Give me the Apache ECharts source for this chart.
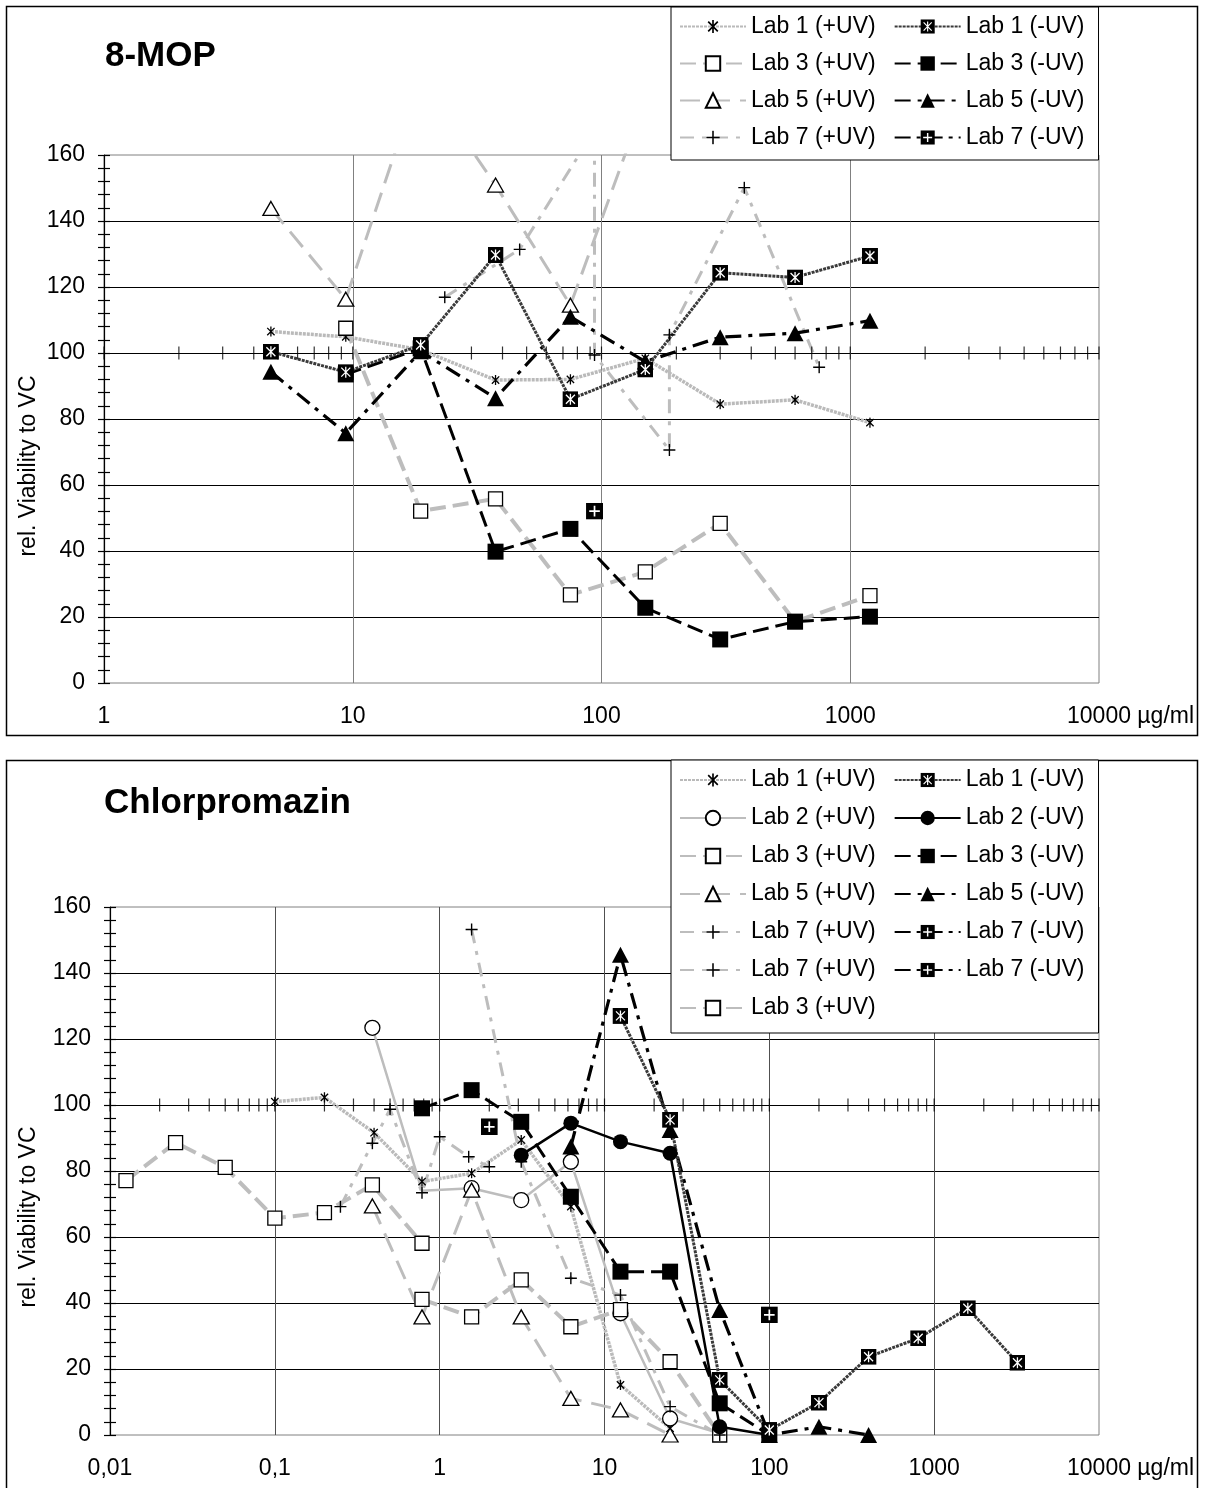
<!DOCTYPE html>
<html>
<head>
<meta charset="utf-8">
<script src="https://cdn.jsdelivr.net/npm/echarts@6/dist/echarts.min.js"></script>
<style>
  html, body { margin: 0; padding: 0; background: #fff; }
  #c { width: 1205px; height: 1488px; }
</style>
</head>
<body>
<div id="c"></div>
<script>
const FONT = '"Liberation Sans", Arial, sans-serif';

// ---------- 8-MOP (µg/ml, rel. viability %) ----------
const mopDose          = [4.6875, 9.375, 18.75, 37.5, 75, 150, 300, 600, 1200];
const mopLab1Plus      = [106.5, 104.9, 101, 91.8, 92, 98.4, 84.5, 85.8, 78.9];
const mopLab1Minus     = [100.4, 94.2, 102.4, 129.7, 86, 95, 124.3, 122.9, 129.4];
const mopLab3Dose      = [9.375, 18.75, 37.5, 75, 150, 300, 600, 1200];
const mopLab3Plus      = [107.5, 52.1, 55.8, 26.7, 33.7, 48.4, 18.6, 26.5];
const mopLab3Minus     = [93.5, 101.4, 39.8, 46.7, 22.8, 13.2, 18.6, 20.1];
const mopLab5PlusDose  = [4.6875, 9.375, 18.75, 37.5, 75, 150];
const mopLab5Plus      = [143.8, 116.3, 184, 150.9, 114.5, 177];
const mopLab5Minus     = [94.3, 75.7, 100.5, 86.3, 111, 97.4, 104.8, 106, 109.8];
const mopLab7PlusDose  = [23.4375, 46.875, 93.75, 93.75, 187.5, 187.5, 375, 750];
const mopLab7Plus      = [116.9, 131.4, 167.5, 99.4, 70.6, 105.5, 150.1, 95.7];
const mopLab7MinusDose = [93.75];
const mopLab7Minus     = [52.1];

// ---------- Chlorpromazin ----------
const cpzLab1PlusDose   = [0.1, 0.2, 0.4, 0.78125, 1.5625, 3.125, 6.25, 12.5, 25];
const cpzLab1Plus       = [101, 102.3, 91.6, 76.8, 79.3, 89.4, 69.2, 15.2, 2];
const cpzLab1MinusDose  = [12.5, 25, 50, 100, 200, 400, 800, 1600, 3200];
const cpzLab1Minus      = [127, 95.5, 16.7, 1.5, 9.8, 23.7, 29.3, 38.4, 21.9];
const cpzLab2PlusDose   = [0.390625, 0.78125, 1.5625, 3.125, 6.25, 12.5, 25, 50];
const cpzLab2Plus       = [123.4, 74, 74.8, 71.2, 82.8, 36.9, 5, 0.5];
const cpzLab2PlusMarker = [true, false, true, true, true, true, true, false];
const cpzLab2MinusDose  = [3.125, 6.25, 12.5, 25, 50, 100];
const cpzLab2Minus      = [84.8, 94.5, 88.9, 85.4, 2.5, 0];
const cpzLab3PlusDose   = [0.78125, 1.5625, 3.125, 6.25, 12.5, 25, 50];
const cpzLab3Plus       = [41.1, 35.8, 47, 32.8, 38, 22.2, 0];
const cpzLab3MinusDose  = [0.78125, 1.5625, 3.125, 6.25, 12.5, 25, 50, 100];
const cpzLab3Minus      = [99, 104.5, 94.9, 72.2, 49.5, 49.5, 9.6, 0];
const cpzLab5PlusDose   = [0.390625, 0.78125, 1.5625, 3.125, 6.25, 12.5, 25];
const cpzLab5Plus       = [69.4, 35.8, 74.2, 35.8, 11.1, 7.6, 0];
const cpzLab5MinusDose  = [6.25, 12.5, 25, 50, 100, 200, 400];
const cpzLab5Minus      = [87.4, 145.5, 92.4, 37.9, 0, 2.5, 0];
const cpzLab7aPlusDose  = [0.25, 0.390625, 0.5, 0.78125, 1, 1.5, 2];
const cpzLab7aPlus      = [69.2, 88.4, 98.7, 73.4, 90.4, 84.3, 81.3];
const cpzLab7bPlusDose  = [1.5625, 3.125, 6.25, 12.5, 25, 50];
const cpzLab7bPlus      = [153.2, 82.8, 47.5, 42.4, 8.6, 0];
const cpzLab7aMinusDose = [2];
const cpzLab7aMinus     = [93.4];
const cpzLab7bMinusDose = [100];
const cpzLab7bMinus     = [36.4];
const cpzLab3bPlusDose  = [0.0125, 0.025, 0.05, 0.1, 0.2, 0.390625, 0.78125];
const cpzLab3bPlus      = [77.1, 88.6, 81.1, 65.7, 67.4, 75.8, 58.1];

// axis tick labels
const yTicks = [0, 20, 40, 60, 80, 100, 120, 140, 160];
const UNIT = '\u00a0µg/ml';

// ---------- marker glyphs ----------
function svgSym(inner, w, h) {
  return 'image://data:image/svg+xml;charset=utf-8,' + encodeURIComponent(
    '<svg xmlns="http://www.w3.org/2000/svg" width="' + w + '" height="' + h +
    '" viewBox="0 0 ' + w + ' ' + h + '">' + inner + '</svg>');
}
const STAR    = svgSym('<path d="M2 2L10 10M10 2L2 10M6 0.5V11.5" stroke="#000" stroke-width="1.4" fill="none"/>', 12, 12);
const SQ_STAR = svgSym('<rect width="16" height="16" fill="#000"/><path d="M3.5 3.5L12.5 12.5M12.5 3.5L3.5 12.5M8 2.5V13.5" stroke="#fff" stroke-width="1.3" fill="none"/>', 16, 16);
const PLUS    = svgSym('<path d="M6.5 0.5V12.5M0.5 6.5H12.5" stroke="#000" stroke-width="1.4" fill="none"/>', 13, 13);
const SQ_PLUS = svgSym('<rect width="16" height="16" fill="#000"/><path d="M8 3V13M3 8H13" stroke="#fff" stroke-width="1.6" fill="none"/>', 16, 16);

const GRAY = '#bdbdbd';
const STY = {
  l1p: { symbol: STAR, symbolSize: 11, lineStyle: { color: '#bababa', width: 3.5, type: [3, 1] } },
  l1m: { symbol: SQ_STAR, symbolSize: 16, lineStyle: { color: '#3a3a3a', width: 3, type: [3, 1] } },
  l2p: { symbol: 'circle', symbolSize: 15, itemStyle: { color: '#fff', borderColor: '#000', borderWidth: 1.3 }, lineStyle: { color: GRAY, width: 2.5 } },
  l2m: { symbol: 'circle', symbolSize: 15, itemStyle: { color: '#000' }, lineStyle: { color: '#000', width: 2.5 } },
  l3p: { symbol: 'rect', symbolSize: 14, itemStyle: { color: '#fff', borderColor: '#000', borderWidth: 1.3 }, lineStyle: { color: GRAY, width: 4, type: [16, 7] } },
  l3m: { symbol: 'rect', symbolSize: 16, itemStyle: { color: '#000' }, lineStyle: { color: '#000', width: 3, type: [16, 7] } },
  l5p: { symbol: 'triangle', symbolSize: [16, 14], itemStyle: { color: '#fff', borderColor: '#000', borderWidth: 1.3 }, lineStyle: { color: GRAY, width: 3, type: [20, 10] } },
  l5m: { symbol: 'triangle', symbolSize: [17, 16], itemStyle: { color: '#000' }, lineStyle: { color: '#000', width: 3.2, type: [16, 7, 4, 7] } },
  l7p: { symbol: PLUS, symbolSize: 13, lineStyle: { color: GRAY, width: 3, type: [14, 8, 4, 8] } },
  l7m: { symbol: SQ_PLUS, symbolSize: 17, lineStyle: { color: '#000', width: 3, type: [16, 6, 4, 6] } }
};

function mk(name, xi, yi, dose, vals, st, markerOn) {
  const data = dose.map(function (d, i) {
    const item = { value: [d, vals[i]] };
    if (markerOn && !markerOn[i]) item.symbol = 'none';
    return item;
  });
  return Object.assign({
    type: 'line', name: name, xAxisIndex: xi, yAxisIndex: yi, data: data,
    clip: true, showAllSymbol: true, emphasis: { disabled: true }, animation: false
  }, st);
}

// tick positions of the log axis crossing at 100 %
function logTicks(e0, e1) {
  const t = [];
  for (let e = e0; e < e1; e++) {
    for (let f = 1; f <= 9; f++) t.push(+(f * Math.pow(10, e)).toPrecision(6));
  }
  t.push(Math.pow(10, e1));
  return t;
}
function crossTicks(xi, yi, ticks) {
  return {
    type: 'scatter', xAxisIndex: xi, yAxisIndex: yi, silent: true, clip: false, z: 3,
    symbol: 'rect', symbolSize: [1.2, 13], itemStyle: { color: '#000' },
    data: ticks.map(function (v) { return [v, 100]; }), animation: false
  };
}

function fmtNum(v, comma) {
  let s = String(+(+v).toPrecision(6));
  if (comma) s = s.replace('.', ',');
  return s;
}
function xAxisCfg(gi, min, max, comma, gridColor) {
  return {
    gridIndex: gi, type: 'log', logBase: 10, min: min, max: max,
    axisLine: { show: false }, axisTick: { show: false },
    splitLine: { show: true, showMinLine: false, showMaxLine: false, lineStyle: { color: gridColor, width: 1 } },
    axisLabel: {
      fontSize: 23, fontFamily: FONT, color: '#000', margin: 22,
      formatter: function (v) {
        const s = fmtNum(v, comma);
        return v >= 9999 ? '{h|' + UNIT + '}' + s + '{u|' + UNIT + '}' : s;
      },
      rich: {
        h: { color: 'rgba(0,0,0,0)', fontSize: 23, fontFamily: FONT },
        u: { color: '#000', fontSize: 23, fontFamily: FONT }
      }
    }
  };
}
function yAxisCfg(gi, inside) {
  return {
    gridIndex: gi, type: 'value', position: 'left', min: yTicks[0], max: yTicks[yTicks.length - 1], interval: 20,
    axisLine: { show: !inside, lineStyle: { color: '#000', width: 1.2 } },
    axisTick: { show: true, inside: inside, length: 6, lineStyle: { color: '#000', width: 1.2 } },
    minorTick: { show: true, splitNumber: 5, length: 6, lineStyle: { color: '#000', width: 1.2 } },
    splitLine: { show: !inside, showMinLine: false, showMaxLine: false, lineStyle: { color: '#000', width: 1 } },
    axisLabel: { show: !inside, fontSize: 23, fontFamily: FONT, color: '#000', margin: 19 }
  };
}
function legendCfg(top, names, lh, padBottom) {
  return {
    left: 671, top: top, width: 420, orient: 'horizontal',
    padding: [5, 4, padBottom, 8], itemGap: 8, itemWidth: 66, itemHeight: 18,
    backgroundColor: '#fff', borderColor: '#000', borderWidth: 1,
    selectedMode: false,
    textStyle: { fontSize: 23, fontFamily: FONT, color: '#000', lineHeight: lh, padding: [0, 10, 0, 0] },
    data: names
  };
}

const Z = '\u200b';
const series = [
  // 8-MOP
  mk('Lab 1 (+UV)', 0, 0, mopDose, mopLab1Plus, STY.l1p),
  mk('Lab 3 (+UV)', 0, 0, mopLab3Dose, mopLab3Plus, STY.l3p),
  mk('Lab 5 (+UV)', 0, 0, mopLab5PlusDose, mopLab5Plus, STY.l5p),
  mk('Lab 7 (+UV)', 0, 0, mopLab7PlusDose, mopLab7Plus, STY.l7p),
  mk('Lab 3 (-UV)', 0, 0, mopLab3Dose, mopLab3Minus, STY.l3m),
  mk('Lab 5 (-UV)', 0, 0, mopDose, mopLab5Minus, STY.l5m),
  mk('Lab 1 (-UV)', 0, 0, mopDose, mopLab1Minus, STY.l1m),
  mk('Lab 7 (-UV)', 0, 0, mopLab7MinusDose, mopLab7Minus, STY.l7m),
  crossTicks(0, 0, logTicks(0, 4)),
  // Chlorpromazin
  mk('Lab 3 (+UV)' + Z, 1, 2, cpzLab3bPlusDose, cpzLab3bPlus, STY.l3p),
  mk('Lab 1 (+UV)', 1, 2, cpzLab1PlusDose, cpzLab1Plus, STY.l1p),
  mk('Lab 2 (+UV)', 1, 2, cpzLab2PlusDose, cpzLab2Plus, STY.l2p, cpzLab2PlusMarker),
  mk('Lab 3 (+UV)', 1, 2, cpzLab3PlusDose, cpzLab3Plus, STY.l3p),
  mk('Lab 5 (+UV)', 1, 2, cpzLab5PlusDose, cpzLab5Plus, STY.l5p),
  mk('Lab 7 (+UV)', 1, 2, cpzLab7aPlusDose, cpzLab7aPlus, STY.l7p),
  mk('Lab 7 (+UV)' + Z, 1, 2, cpzLab7bPlusDose, cpzLab7bPlus, STY.l7p),
  mk('Lab 2 (-UV)', 1, 2, cpzLab2MinusDose, cpzLab2Minus, STY.l2m),
  mk('Lab 3 (-UV)', 1, 2, cpzLab3MinusDose, cpzLab3Minus, STY.l3m),
  mk('Lab 5 (-UV)', 1, 2, cpzLab5MinusDose, cpzLab5Minus, STY.l5m),
  mk('Lab 1 (-UV)', 1, 2, cpzLab1MinusDose, cpzLab1Minus, STY.l1m),
  mk('Lab 7 (-UV)', 1, 2, cpzLab7aMinusDose, cpzLab7aMinus, STY.l7m),
  mk('Lab 7 (-UV)' + Z, 1, 2, cpzLab7bMinusDose, cpzLab7bMinus, STY.l7m),
  crossTicks(1, 2, logTicks(-2, 4))
];

const option = {
  animation: false,
  backgroundColor: '#fff',
  grid: [
    { left: 104, top: 155, width: 995, height: 528, show: true, borderColor: '#808080', borderWidth: 1, backgroundColor: 'rgba(0,0,0,0)' },
    { left: 110, top: 907, width: 989, height: 528, show: true, borderColor: '#808080', borderWidth: 1, backgroundColor: 'rgba(0,0,0,0)' }
  ],
  xAxis: [
    xAxisCfg(0, 1, 10000, false, '#808080'),
    xAxisCfg(1, 0.01, 10000, true, '#505050')
  ],
  yAxis: [yAxisCfg(0, false), yAxisCfg(0, true), yAxisCfg(1, false), yAxisCfg(1, true)],
  legend: [
    legendCfg(7, ['Lab 1 (+UV)', 'Lab 1 (-UV)', 'Lab 3 (+UV)', 'Lab 3 (-UV)', 'Lab 5 (+UV)', 'Lab 5 (-UV)', 'Lab 7 (+UV)', 'Lab 7 (-UV)'], 29, 8),
    legendCfg(760, ['Lab 1 (+UV)', 'Lab 1 (-UV)', 'Lab 2 (+UV)', 'Lab 2 (-UV)', 'Lab 3 (+UV)', 'Lab 3 (-UV)', 'Lab 5 (+UV)', 'Lab 5 (-UV)',
      'Lab 7 (+UV)', 'Lab 7 (-UV)', 'Lab 7 (+UV)' + Z, 'Lab 7 (-UV)' + Z, 'Lab 3 (+UV)' + Z], 30, 10)
  ],
  graphic: [
    { type: 'rect', silent: true, shape: { x: 6.5, y: 6.5, width: 1191, height: 729 }, style: { fill: 'none', stroke: '#000', lineWidth: 1.5 } },
    { type: 'rect', silent: true, shape: { x: 6.5, y: 760.5, width: 1191, height: 740 }, style: { fill: 'none', stroke: '#000', lineWidth: 1.5 } },
    { type: 'text', silent: true, x: 105, y: 56, style: { text: '8-MOP', font: 'bold 35px ' + FONT, fill: '#000', align: 'left', verticalAlign: 'middle' } },
    { type: 'text', silent: true, x: 104, y: 803, style: { text: 'Chlorpromazin', font: 'bold 35px ' + FONT, fill: '#000', align: 'left', verticalAlign: 'middle' } },
    { type: 'text', silent: true, x: 29, y: 466, rotation: Math.PI / 2, style: { text: 'rel. Viability to VC', font: '23px ' + FONT, fill: '#000', align: 'center', verticalAlign: 'middle' } },
    { type: 'text', silent: true, x: 29, y: 1217, rotation: Math.PI / 2, style: { text: 'rel. Viability to VC', font: '23px ' + FONT, fill: '#000', align: 'center', verticalAlign: 'middle' } }
  ],
  series: series
};

const chart = echarts.init(document.getElementById('c'), null, { renderer: 'canvas', width: 1205, height: 1488 });
chart.setOption(option);
</script>
</body>
</html>
